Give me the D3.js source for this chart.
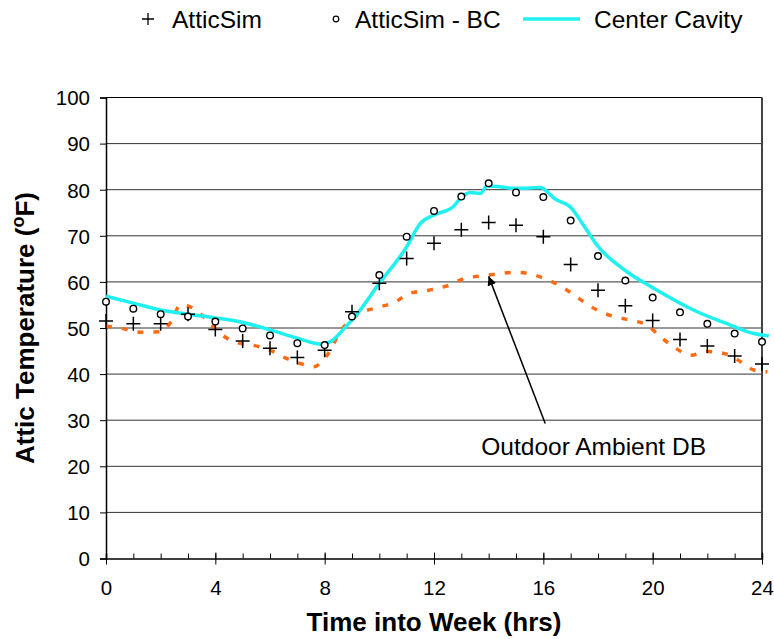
<!DOCTYPE html>
<html lang="en">
<head>
<meta charset="UTF-8">
<title>Attic Temperature</title>
<script src="https://d3js.org/d3.v7.min.js"></script>
<style>
    body { margin: 0; background: #fff; }
    svg { display: block; font-family: "Liberation Sans", Arial, sans-serif; }
    .tick text { fill: #000; }
</style>
</head>
<body>
<svg width="774" height="639"></svg>
<script>
// hourly simulation results
const hours = d3.range(0, 25);
const atticSim = [51.5, 50.9, 50.9, 53.0, 49.7, 47.2, 45.6, 43.6, 45.2, 53.5, 59.7, 65.1, 68.4,
    71.3, 72.9, 72.3, 69.8, 63.8, 58.2, 54.8, 51.6, 47.5, 46.1, 43.9, 42.2];
const atticSimBC = [55.7, 54.2, 53.0, 52.5, 51.4, 49.9, 48.4, 46.7, 46.3, 52.5, 61.5, 69.8, 75.4,
    78.5, 81.4, 79.4, 78.4, 73.3, 65.6, 60.3, 56.6, 53.4, 50.9, 48.8, 47.0];

// measured center cavity
const cavityTime = [0, 1, 2, 3, 4, 5, 6, 7, 7.9, 8.2, 8.9, 9.0, 10.0, 11.0, 11.5, 12.0, 12.7, 12.96,
    13.33, 13.7, 13.94, 14.3, 14.9, 15.4, 15.9, 16.07, 16.4, 17.0, 17.5, 17.96, 19.06, 20.04, 20.9,
    21.75, 22.7, 23.7, 24.25];
const cavityTemp = [56.9, 55.4, 53.9, 53.0, 52.2, 51.2, 49.6, 47.8, 46.5, 47.0, 51.1, 51.7, 59.7, 67.6,
    72.7, 74.5, 76.3, 78.1, 79.4, 79.2, 80.8, 80.7, 80.3, 80.3, 80.5, 79.9, 78.1, 76.2, 72.0, 68.0,
    62.2, 58.6, 55.7, 53.2, 51.0, 48.8, 48.3];

// outdoor ambient dry bulb
const ambientTime = [0, 0.5, 1.26, 2.0, 2.4, 2.72, 3.08, 3.7, 4.18, 4.8, 5.35, 6.0, 6.6, 7.1, 7.6, 8.09,
    8.6, 9.3, 9.98, 10.6, 11.1, 11.8, 12.4, 13.1, 13.7, 14.3, 15.0, 15.65, 16.26, 16.87, 17.35, 17.96,
    18.57, 19.18, 19.8, 20.28, 20.77, 21.4, 22.0, 22.6, 23.1, 23.7, 24.2];
const ambientTemp = [50.4, 50.0, 49.1, 49.2, 51.5, 55.0, 54.6, 51.7, 48.8, 46.8, 46.3, 45.2, 43.4, 42.3,
    41.6, 44.1, 49.5, 53.2, 54.5, 55.7, 57.5, 58.2, 59.0, 60.7, 61.3, 61.7, 62.1, 61.5, 60.2, 58.2,
    56.2, 53.9, 52.5, 51.7, 50.6, 48.1, 45.9, 44.1, 44.9, 44.5, 43.1, 40.9, 40.5];

const yTicks = [0, 10, 20, 30, 40, 50, 60, 70, 80, 90, 100];
const xTicks = [0, 4, 8, 12, 16, 20, 24];
const legendNames = ["AtticSim", "AtticSim - BC", "Center Cavity"];
const noteText = "Outdoor Ambient DB";
const noteTip = [14.0, 61.2];
const noteTail = [16.07, 29.3];
const noteLabel = [13.73, 22.4];

const svg = d3.select("svg");
const plotLeft = 106, plotRight = 762, plotTop = 97.5, plotBottom = 558.5;

const x = d3.scaleLinear().domain([0, 24]).range([plotLeft, plotRight]);
const y = d3.scaleLinear().domain([0, 100]).range([plotBottom, plotTop]);

// gridlines
svg.append("g").selectAll("line").data(yTicks.slice(1)).join("line")
    .attr("x1", plotLeft).attr("x2", plotRight)
    .attr("y1", d => y(d)).attr("y2", d => y(d))
    .attr("stroke", d => d === 100 ? "#000" : "#333").attr("stroke-width", 1);

// right border
svg.append("line").attr("x1", plotRight).attr("x2", plotRight).attr("y1", plotTop).attr("y2", plotBottom)
    .attr("stroke", "#444").attr("stroke-width", 2);

// y axis
const yAxis = svg.append("g").attr("transform", `translate(${plotLeft},0)`)
    .call(d3.axisLeft(y).tickValues(yTicks).tickSize(6).tickPadding(10));
yAxis.select(".domain").attr("stroke", "#000").attr("stroke-width", 1.5);
yAxis.selectAll(".tick line").attr("stroke", "#000");
yAxis.selectAll(".tick text").style("font-size", "20.5px").attr("dy", "0.36em");

// x axis: minor ticks every hour inside, major every 4 crossing
const xAxis = svg.append("g").attr("transform", `translate(0,${plotBottom})`);
xAxis.call(d3.axisBottom(x).tickValues(hours).tickSize(-5).tickFormat(""));
xAxis.selectAll(".tick line").attr("stroke", "#000");
xAxis.select(".domain").attr("stroke", "#000").attr("stroke-width", 1.5);
const xMajor = svg.append("g").attr("transform", `translate(0,${plotBottom})`)
    .call(d3.axisBottom(x).tickValues(xTicks).tickSize(6).tickPadding(16));
xMajor.select(".domain").remove();
xMajor.selectAll(".tick line").attr("y1", -6).attr("stroke", "#000");
xMajor.selectAll(".tick text").style("font-size", "20.5px");

// axis titles
svg.append("text")
    .attr("x", (plotLeft + plotRight) / 2).attr("y", 631)
    .attr("text-anchor", "middle")
    .style("font-size", "26px").style("font-weight", "bold")
    .text("Time into Week (hrs)");

const yTitle = svg.append("text")
    .attr("transform", `translate(34,${(plotTop + plotBottom) / 2}) rotate(-90)`)
    .attr("text-anchor", "middle")
    .style("font-size", "26px").style("font-weight", "bold");
yTitle.append("tspan").text("Attic Temperature (");
yTitle.append("tspan").attr("baseline-shift", "super").style("font-size", "18px").text("o");
yTitle.append("tspan").text("F)");

// lines
const cavity = cavityTime.map((t, i) => [t, cavityTemp[i]]);
const ambient = ambientTime.map((t, i) => [t, ambientTemp[i]]);
const line = d3.line().x(d => x(d[0])).y(d => y(d[1])).curve(d3.curveMonotoneX);

svg.append("path").datum(ambient)
    .attr("d", line).attr("fill", "none")
    .attr("stroke", "#ff6a13").attr("stroke-width", 3.5)
    .attr("stroke-dasharray", "6,10");

svg.append("path").datum(cavity)
    .attr("d", line).attr("fill", "none")
    .attr("stroke", "#1ff0f0").attr("stroke-width", 3.5);

// markers
const plusPath = s => `M${-s},0H${s}M0,${-s}V${s}`;

svg.append("g").selectAll("path").data(hours).join("path")
    .attr("transform", (d, i) => `translate(${x(d)},${y(atticSim[i])})`)
    .attr("d", plusPath(7))
    .attr("stroke", "#000").attr("stroke-width", 1.5).attr("fill", "none");

svg.append("g").selectAll("circle").data(hours).join("circle")
    .attr("cx", d => x(d)).attr("cy", (d, i) => y(atticSimBC[i]))
    .attr("r", 3.3)
    .attr("stroke", "#000").attr("stroke-width", 1.4).attr("fill", "#fff");

// annotation
svg.append("defs").append("marker")
    .attr("id", "arrow").attr("viewBox", "0 0 10 10")
    .attr("refX", 10).attr("refY", 5)
    .attr("markerWidth", 9).attr("markerHeight", 9)
    .attr("markerUnits", "userSpaceOnUse")
    .attr("orient", "auto")
    .append("path").attr("d", "M0,0L10,5L0,10z").attr("fill", "#000");

svg.append("line")
    .attr("x1", x(noteTail[0])).attr("y1", y(noteTail[1]))
    .attr("x2", x(noteTip[0])).attr("y2", y(noteTip[1]))
    .attr("stroke", "#000").attr("stroke-width", 1.5)
    .attr("marker-end", "url(#arrow)");

svg.append("text")
    .attr("x", x(noteLabel[0])).attr("y", y(noteLabel[1]))
    .style("font-size", "24.5px")
    .text(noteText);

// legend
const lg = svg.append("g");
const legendX = [148, 336, 523];
const legendTextX = [172, 355, 594];
const ly = 19;
lg.append("path").attr("transform", `translate(${legendX[0]},${ly})`)
    .attr("d", plusPath(6)).attr("stroke", "#000").attr("stroke-width", 1.3);
lg.append("circle").attr("cx", legendX[1]).attr("cy", ly).attr("r", 2.8)
    .attr("stroke", "#000").attr("stroke-width", 1.2).attr("fill", "#fff");
lg.append("line").attr("x1", legendX[2]).attr("x2", 580).attr("y1", ly).attr("y2", ly)
    .attr("stroke", "#1ff0f0").attr("stroke-width", 3.5);
lg.selectAll("text").data(legendNames).join("text")
    .attr("x", (d, i) => legendTextX[i]).attr("y", ly + 9)
    .style("font-size", "24.5px")
    .text(d => d);
</script>
</body>
</html>
